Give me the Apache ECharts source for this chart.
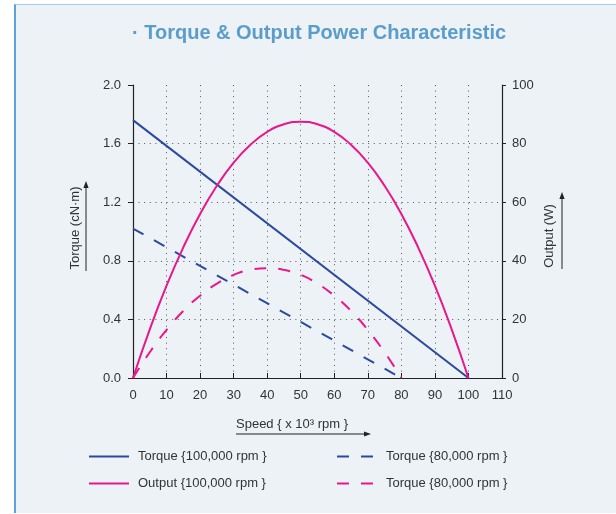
<!DOCTYPE html>
<html>
<head>
<meta charset="utf-8">
<script src="https://cdn.jsdelivr.net/npm/echarts@6/dist/echarts.min.js"></script>
<style>
  html, body { margin: 0; padding: 0; background: #ffffff; }
  #panel {
    position: absolute; left: 14px; top: 4px; width: 602px; height: 509px;
    background: #edf2f7; border-left: 2px solid #5ea3d7; border-top: 1px solid #a9cbe6;
    box-sizing: border-box;
  }
  #chart { position: absolute; left: 0; top: 0; width: 616px; height: 514px; }
</style>
</head>
<body>
<div id="panel"></div>
<div id="chart"></div>
<script>
// Speed axis (x 10^3 rpm)
const speedTicks = [0, 10, 20, 30, 40, 50, 60, 70, 80, 90, 100, 110];
const torqueTicks = ['0.0', '0.4', '0.8', '1.2', '1.6', '2.0'];
const outputTicks = [0, 20, 40, 60, 80, 100];

// Torque lines (cN·m): straight from stall torque to no-load speed
const torque100Speed = [0, 100];
const torque100Value = [1.76, 0];
const torque80Speed = [0, 80];
const torque80Value = [1.02, 0];

// Output power curves (W)
const output100Speed = [0, 5, 10, 15, 20, 25, 30, 35, 40, 45, 50, 55, 60, 65, 70, 75, 80, 85, 90, 95, 100];
const output100Value = [0, 16.6, 31.5, 44.6, 56, 65.6, 73.5, 79.6, 84, 86.6, 87.5, 86.6, 84, 79.6, 73.5, 65.6, 56, 44.6, 31.5, 16.6, 0];
const output80Speed = [0, 5, 10, 15, 20, 25, 30, 35, 40, 45, 50, 55, 60, 65, 70, 75, 80];
const output80Value = [0, 8.8, 16.4, 22.9, 28.1, 32.2, 35.2, 36.9, 37.5, 36.9, 35.2, 32.2, 28.1, 22.9, 16.4, 8.8, 0];

const seriesNames = ['Torque {100,000 rpm }', 'Torque {80,000 rpm }', 'Output {100,000 rpm }', 'Output {80,000 rpm }'];
const legendTexts = ['Torque {100,000 rpm }', 'Torque {80,000 rpm }', 'Output {100,000 rpm }', 'Torque {80,000 rpm }'];

const BLUE = '#2c4a9c';
const PINK = '#e8178a';
const DASH = [12, 12];
const FONT = 'Liberation Sans, Arial, Helvetica, sans-serif';

const zip = (xs, ys) => xs.map((x, i) => [x, ys[i]]);

const chart = echarts.init(document.getElementById('chart'), null, { renderer: 'canvas' });

function legendAt(idx, left, top) {
  return {
    data: [seriesNames[idx]],
    left: left, top: top,
    orient: 'horizontal',
    itemWidth: 40, itemHeight: 14,
    selectedMode: false,
    itemStyle: { opacity: 0 },
    formatter: () => legendTexts[idx],
    textStyle: { fontFamily: FONT, fontSize: 13, color: '#333', padding: [0, 0, 0, 4] }
  };
}

function arrow(x1, y1, x2, y2) {
  // shaft plus a small filled head at (x2, y2)
  const ang = Math.atan2(y2 - y1, x2 - x1);
  const L = 7, W = 2.6;
  const bx = x2 - L * Math.cos(ang), by = y2 - L * Math.sin(ang);
  const px = -Math.sin(ang) * W, py = Math.cos(ang) * W;
  return [
    { type: 'line', shape: { x1: x1, y1: y1, x2: bx, y2: by }, style: { stroke: '#222', lineWidth: 1 } },
    { type: 'polygon', shape: { points: [[x2, y2], [bx + px, by + py], [bx - px, by - py]] }, style: { fill: '#222' } }
  ];
}

const option = {
  animation: false,
  title: {
    text: '· Torque & Output Power Characteristic',
    left: 127, top: 18,
    textStyle: { fontFamily: FONT, fontSize: 20, fontWeight: 'bold', color: '#5b9dca' }
  },
  grid: { left: 133, right: 114, top: 85, bottom: 136, containLabel: false },
  xAxis: {
    type: 'value', min: 0, max: 110, interval: 10,
    axisLine: { show: true, onZero: false, lineStyle: { color: '#222', width: 1.2 } },
    axisTick: { show: true, inside: true, length: 5, lineStyle: { color: '#222' } },
    axisLabel: { margin: 11, fontFamily: FONT, fontSize: 13, color: '#333',
      formatter: v => String(speedTicks[speedTicks.indexOf(v)]) },
    splitLine: { show: true, showMinLine: false, showMaxLine: false,
      lineStyle: { color: '#555', type: [1, 4.6], width: 1 } }
  },
  yAxis: [
    {
      type: 'value', min: 0, max: 2, interval: 0.4, position: 'left',
      axisLine: { show: true, lineStyle: { color: '#222', width: 1.2 } },
      axisTick: { show: true, length: 5, lineStyle: { color: '#222' } },
      axisLabel: { margin: 12, fontFamily: FONT, fontSize: 13, color: '#333',
        formatter: v => torqueTicks[Math.round(v / 0.4)] },
      splitLine: { show: true, showMinLine: false, showMaxLine: false,
        lineStyle: { color: '#555', type: [1, 4.6], width: 1 } }
    },
    {
      type: 'value', min: 0, max: 100, interval: 20, position: 'right',
      axisLine: { show: true, lineStyle: { color: '#222', width: 1.2 } },
      axisTick: { show: true, length: 4, lineStyle: { color: '#222' } },
      axisLabel: { margin: 10, fontFamily: FONT, fontSize: 13, color: '#333',
        formatter: v => String(outputTicks[Math.round(v / 20)]) },
      splitLine: { show: false }
    }
  ],
  legend: [
    legendAt(0, 83, 445),
    legendAt(2, 83, 472),
    legendAt(1, 331, 445),
    legendAt(3, 331, 472)
  ],
  series: [
    { name: seriesNames[0], type: 'line', yAxisIndex: 0, symbol: 'none',
      data: zip(torque100Speed, torque100Value),
      lineStyle: { color: BLUE, width: 2 }, itemStyle: { color: BLUE } },
    { name: seriesNames[1], type: 'line', yAxisIndex: 0, symbol: 'none',
      data: zip(torque80Speed, torque80Value),
      lineStyle: { color: BLUE, width: 2, type: DASH }, itemStyle: { color: BLUE } },
    { name: seriesNames[2], type: 'line', yAxisIndex: 1, symbol: 'none', smooth: true,
      data: zip(output100Speed, output100Value),
      lineStyle: { color: PINK, width: 2 }, itemStyle: { color: PINK } },
    { name: seriesNames[3], type: 'line', yAxisIndex: 1, symbol: 'none', smooth: true,
      data: zip(output80Speed, output80Value),
      lineStyle: { color: PINK, width: 2, type: DASH }, itemStyle: { color: PINK } }
  ],
  graphic: [
    { type: 'text', x: 75, y: 228, rotation: Math.PI / 2,
      style: { text: 'Torque (cN·m)', fontFamily: FONT, fontSize: 13, fill: '#333', align: 'center', verticalAlign: 'middle' } },
    ...arrow(86, 271, 86, 181),
    { type: 'text', x: 549, y: 236, rotation: Math.PI / 2,
      style: { text: 'Output (W)', fontFamily: FONT, fontSize: 13, fill: '#333', align: 'center', verticalAlign: 'middle' } },
    ...arrow(562, 269, 562, 192),
    { type: 'text', x: 236, y: 424,
      style: { text: 'Speed { x 10³ rpm }', fontFamily: FONT, fontSize: 13, fill: '#333', align: 'left', verticalAlign: 'middle' } },
    ...arrow(236, 434, 371, 434)
  ]
};

chart.setOption(option);
</script>
</body>
</html>
